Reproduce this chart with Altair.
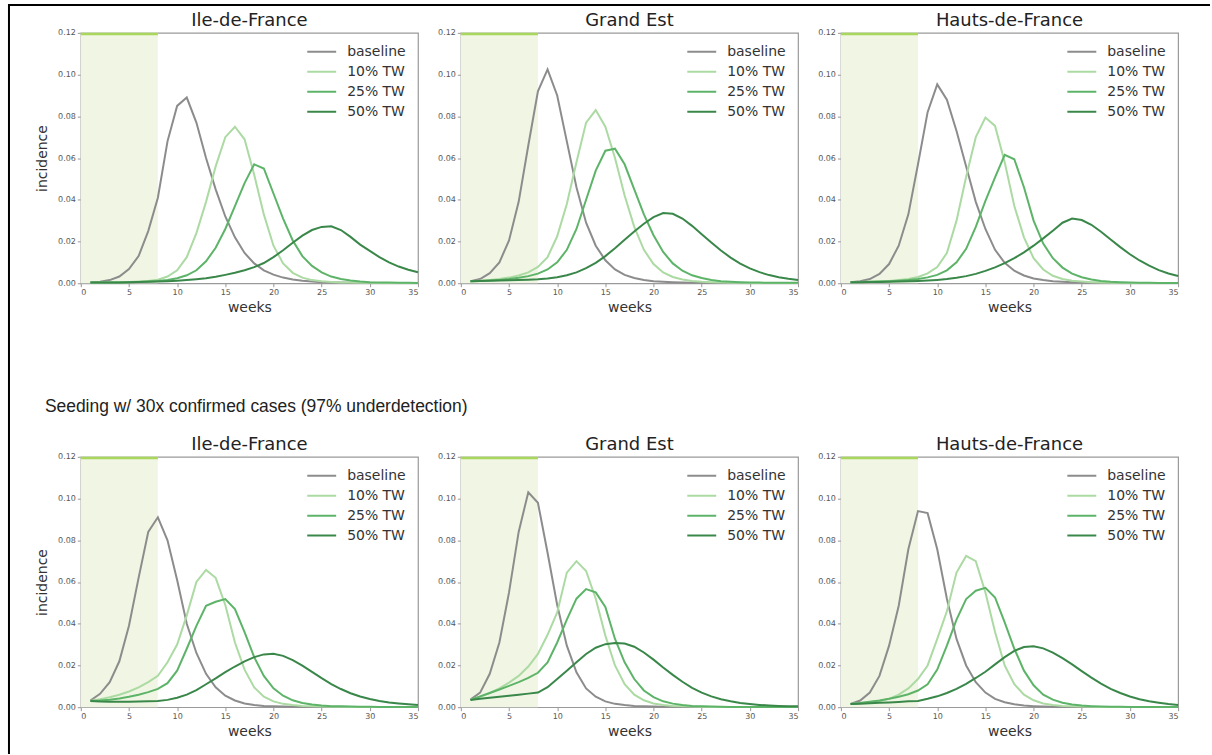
import altair as alt
import pandas as pd

WEEKS = list(range(1, 36))
SCENARIOS = ["baseline", "10% TW", "25% TW", "50% TW"]
COLORS = ["#8c8c8c", "#acdaa3", "#5db468", "#3a874a"]
REGIONS = ["Ile-de-France", "Grand Est", "Hauts-de-France"]
LOCKDOWN = [0, 8]
SUBTITLE = "Seeding w/ 30x confirmed cases (97% underdetection)"
X_TICKS = [0, 5, 10, 15, 20, 25, 30, 35]
Y_TICKS = [0.0, 0.02, 0.04, 0.06, 0.08, 0.10, 0.12]

# ---------- top row ----------
idf_top_base = [0.0003, 0.0007, 0.0015, 0.0032, 0.0068, 0.013, 0.025, 0.041, 0.068, 0.085, 0.089, 0.077, 0.060, 0.045, 0.032, 0.022, 0.0145, 0.0095, 0.0062, 0.0041, 0.0027, 0.0018, 0.0012, 0.0008, 0.0005, 0.0004, 0.0003, 0.0002, 0.0002, 0.0001, 0.0001, 0.0001, 0.0001, 0.0001, 0.0001]
idf_top_10 = [0.0003, 0.0003, 0.0004, 0.0005, 0.0006, 0.0008, 0.0011, 0.0017, 0.0032, 0.0062, 0.0125, 0.024, 0.039, 0.056, 0.070, 0.075, 0.069, 0.052, 0.033, 0.018, 0.0095, 0.005, 0.0027, 0.0015, 0.0009, 0.0006, 0.0004, 0.0003, 0.0002, 0.0002, 0.0001, 0.0001, 0.0001, 0.0001, 0.0001]
idf_top_25 = [0.0003, 0.0003, 0.0004, 0.0004, 0.0005, 0.0006, 0.0008, 0.0011, 0.0016, 0.0024, 0.0038, 0.0062, 0.0105, 0.017, 0.026, 0.037, 0.048, 0.057, 0.055, 0.043, 0.031, 0.0205, 0.013, 0.0083, 0.0052, 0.0032, 0.002, 0.0013, 0.0008, 0.0005, 0.0004, 0.0003, 0.0002, 0.0002, 0.0001]
idf_top_50 = [0.0003, 0.0003, 0.0004, 0.0004, 0.0005, 0.0006, 0.0007, 0.0008, 0.001, 0.0012, 0.0015, 0.0019, 0.0024, 0.0031, 0.004, 0.005, 0.0062, 0.0077, 0.0097, 0.0125, 0.0158, 0.0194, 0.0228, 0.0255, 0.027, 0.0273, 0.0255, 0.0222, 0.0185, 0.0155, 0.0125, 0.0100, 0.0080, 0.0065, 0.0053]

ge_top_base = [0.0010, 0.0020, 0.0048, 0.010, 0.0205, 0.039, 0.066, 0.092, 0.1025, 0.090, 0.068, 0.046, 0.029, 0.018, 0.011, 0.0066, 0.004, 0.0025, 0.0016, 0.001, 0.0007, 0.0005, 0.0003, 0.0002, 0.0002, 0.0001, 0.0001, 0.0001, 0.0001, 0.0001, 0.0001, 0.0001, 0.0001, 0.0001, 0.0001]
ge_top_10 = [0.0010, 0.0012, 0.0015, 0.002, 0.0027, 0.0037, 0.0052, 0.0078, 0.0125, 0.0225, 0.038, 0.058, 0.077, 0.083, 0.075, 0.060, 0.042, 0.027, 0.016, 0.0092, 0.0052, 0.003, 0.0018, 0.0011, 0.0007, 0.0005, 0.0003, 0.0002, 0.0002, 0.0001, 0.0001, 0.0001, 0.0001, 0.0001, 0.0001]
ge_top_25 = [0.0010, 0.0011, 0.0013, 0.0016, 0.0020, 0.0026, 0.0034, 0.0046, 0.0066, 0.0100, 0.0160, 0.026, 0.040, 0.054, 0.0635, 0.0645, 0.057, 0.045, 0.033, 0.023, 0.015, 0.0095, 0.006, 0.0038, 0.0025, 0.0016, 0.001, 0.0007, 0.0005, 0.0004, 0.0003, 0.0002, 0.0002, 0.0002, 0.0002]
ge_top_50 = [0.0010, 0.0011, 0.0012, 0.0013, 0.0014, 0.0015, 0.0017, 0.0019, 0.0023, 0.0029, 0.0038, 0.0052, 0.0072, 0.0098, 0.0130, 0.0168, 0.0208, 0.0248, 0.0285, 0.0317, 0.0336, 0.0333, 0.0310, 0.0275, 0.0235, 0.0195, 0.0157, 0.0123, 0.0094, 0.0071, 0.0053, 0.0039, 0.0029, 0.0021, 0.0015]

hdf_top_base = [0.0005, 0.001, 0.002, 0.0045, 0.0092, 0.018, 0.033, 0.057, 0.082, 0.0953, 0.088, 0.073, 0.056, 0.039, 0.026, 0.016, 0.0098, 0.006, 0.0037, 0.0023, 0.0015, 0.001, 0.0007, 0.0005, 0.0003, 0.0002, 0.0002, 0.0001, 0.0001, 0.0001, 0.0001, 0.0001, 0.0001, 0.0001, 0.0001]
hdf_top_10 = [0.0005, 0.0006, 0.0007, 0.0009, 0.0011, 0.0015, 0.002, 0.003, 0.0047, 0.0078, 0.0145, 0.030, 0.051, 0.070, 0.0794, 0.0754, 0.058, 0.037, 0.022, 0.012, 0.0066, 0.0036, 0.002, 0.0012, 0.0008, 0.0005, 0.0003, 0.0002, 0.0002, 0.0001, 0.0001, 0.0001, 0.0001, 0.0001, 0.0001]
hdf_top_25 = [0.0005, 0.0006, 0.0007, 0.0008, 0.001, 0.0012, 0.0015, 0.002, 0.0028, 0.004, 0.0062, 0.010, 0.0165, 0.027, 0.0395, 0.0507, 0.0615, 0.0594, 0.046, 0.030, 0.019, 0.012, 0.0075, 0.0046, 0.0029, 0.0018, 0.0011, 0.0007, 0.0005, 0.0003, 0.0002, 0.0002, 0.0001, 0.0001, 0.0001]
hdf_top_50 = [0.0005, 0.0005, 0.0006, 0.0006, 0.0007, 0.0008, 0.0009, 0.0011, 0.0013, 0.0016, 0.002, 0.0026, 0.0034, 0.0045, 0.0059, 0.0076, 0.0096, 0.012, 0.0148, 0.0180, 0.0215, 0.0252, 0.0290, 0.0310, 0.0303, 0.0280, 0.0247, 0.0210, 0.0173, 0.0139, 0.0109, 0.0084, 0.0063, 0.0047, 0.0035]

# ---------- bottom row (30x seeding) ----------
idf_bot_base = [0.0032, 0.0064, 0.012, 0.022, 0.039, 0.062, 0.084, 0.091, 0.080, 0.061, 0.040, 0.026, 0.016, 0.0095, 0.0055, 0.0032, 0.0018, 0.001, 0.0006, 0.0004, 0.0003, 0.0002, 0.0001, 0.0001, 0.0001, 0.0001, 0.0001, 0.0001, 0.0001, 0.0001, 0.0001, 0.0001, 0.0001, 0.0001, 0.0001]
idf_bot_10 = [0.003, 0.0038, 0.0048, 0.006, 0.0075, 0.0095, 0.012, 0.015, 0.0215, 0.0300, 0.044, 0.060, 0.0658, 0.062, 0.049, 0.031, 0.018, 0.0095, 0.005, 0.0028, 0.0016, 0.001, 0.0006, 0.0004, 0.0003, 0.0002, 0.0002, 0.0001, 0.0001, 0.0001, 0.0001, 0.0001, 0.0001, 0.0001, 0.0001]
idf_bot_25 = [0.003, 0.0032, 0.0036, 0.0042, 0.005, 0.006, 0.0072, 0.0088, 0.0115, 0.0175, 0.028, 0.039, 0.0486, 0.0505, 0.0518, 0.047, 0.036, 0.024, 0.015, 0.009, 0.0055, 0.0033, 0.002, 0.0013, 0.0008, 0.0005, 0.0004, 0.0003, 0.0002, 0.0002, 0.0001, 0.0001, 0.0001, 0.0001, 0.0001]
idf_bot_50 = [0.003, 0.0027, 0.0026, 0.0026, 0.0026, 0.0027, 0.0028, 0.003, 0.0035, 0.0045, 0.006, 0.0082, 0.011, 0.0138, 0.0168, 0.0195, 0.022, 0.024, 0.0253, 0.0256, 0.0246, 0.0226, 0.0199, 0.0169, 0.0139, 0.0111, 0.0087, 0.0067, 0.0051, 0.0039, 0.003, 0.0023, 0.0018, 0.0014, 0.0011]

ge_bot_base = [0.0037, 0.007, 0.016, 0.031, 0.055, 0.084, 0.103, 0.098, 0.074, 0.049, 0.0295, 0.0167, 0.009, 0.005, 0.0028, 0.0016, 0.001, 0.0006, 0.0004, 0.0003, 0.0002, 0.0002, 0.0001, 0.0001, 0.0001, 0.0001, 0.0001, 0.0001, 0.0001, 0.0001, 0.0001, 0.0001, 0.0001, 0.0001, 0.0001]
ge_bot_10 = [0.0035, 0.005, 0.0068, 0.009, 0.0118, 0.015, 0.0195, 0.0255, 0.0347, 0.0454, 0.0645, 0.070, 0.0653, 0.052, 0.0343, 0.020, 0.011, 0.006, 0.0033, 0.0018, 0.001, 0.0006, 0.0004, 0.0003, 0.0002, 0.0001, 0.0001, 0.0001, 0.0001, 0.0001, 0.0001, 0.0001, 0.0001, 0.0001, 0.0001]
ge_bot_25 = [0.0035, 0.0052, 0.0068, 0.0085, 0.0102, 0.012, 0.014, 0.0165, 0.0215, 0.031, 0.042, 0.052, 0.0566, 0.055, 0.048, 0.0327, 0.0215, 0.0135, 0.008, 0.0048, 0.0028, 0.0017, 0.001, 0.0006, 0.0004, 0.0003, 0.0002, 0.0001, 0.0001, 0.0001, 0.0001, 0.0001, 0.0001, 0.0001, 0.0001]
ge_bot_50 = [0.0035, 0.004, 0.0045, 0.005, 0.0055, 0.006, 0.0065, 0.007, 0.0096, 0.0135, 0.0175, 0.0215, 0.0255, 0.0285, 0.0302, 0.0308, 0.0305, 0.029, 0.0262, 0.0228, 0.019, 0.0155, 0.0122, 0.0093, 0.007, 0.0052, 0.0038, 0.0028, 0.002, 0.0015, 0.0011, 0.0008, 0.0006, 0.0005, 0.0004]

hdf_bot_base = [0.0016, 0.0032, 0.007, 0.015, 0.0295, 0.0486, 0.0757, 0.094, 0.093, 0.0757, 0.052, 0.0327, 0.020, 0.012, 0.007, 0.004, 0.0024, 0.0014, 0.0008, 0.0005, 0.0003, 0.0002, 0.0001, 0.0001, 0.0001, 0.0001, 0.0001, 0.0001, 0.0001, 0.0001, 0.0001, 0.0001, 0.0001, 0.0001, 0.0001]
hdf_bot_10 = [0.0015, 0.002, 0.0025, 0.003, 0.004, 0.006, 0.009, 0.0135, 0.020, 0.0327, 0.046, 0.0645, 0.0725, 0.070, 0.055, 0.036, 0.020, 0.011, 0.006, 0.0033, 0.0018, 0.001, 0.0006, 0.0004, 0.0003, 0.0002, 0.0001, 0.0001, 0.0001, 0.0001, 0.0001, 0.0001, 0.0001, 0.0001, 0.0001]
hdf_bot_25 = [0.0015, 0.002, 0.0026, 0.0032, 0.004, 0.005, 0.0062, 0.008, 0.011, 0.018, 0.0295, 0.042, 0.0518, 0.0558, 0.0572, 0.0526, 0.0406, 0.028, 0.0175, 0.0105, 0.006, 0.0036, 0.0021, 0.0013, 0.0008, 0.0005, 0.0003, 0.0002, 0.0002, 0.0001, 0.0001, 0.0001, 0.0001, 0.0001, 0.0001]
hdf_bot_50 = [0.0015, 0.0017, 0.0019, 0.0021, 0.0023, 0.0025, 0.0028, 0.003, 0.004, 0.0052, 0.0068, 0.0088, 0.0112, 0.014, 0.017, 0.0205, 0.024, 0.027, 0.0288, 0.0292, 0.0282, 0.0262, 0.0235, 0.0205, 0.0173, 0.0142, 0.0113, 0.0088, 0.0068, 0.0051, 0.0038, 0.0028, 0.0021, 0.0015, 0.0011]

TOP = [
    [idf_top_base, idf_top_10, idf_top_25, idf_top_50],
    [ge_top_base, ge_top_10, ge_top_25, ge_top_50],
    [hdf_top_base, hdf_top_10, hdf_top_25, hdf_top_50],
]
BOTTOM = [
    [idf_bot_base, idf_bot_10, idf_bot_25, idf_bot_50],
    [ge_bot_base, ge_bot_10, ge_bot_25, ge_bot_50],
    [hdf_bot_base, hdf_bot_10, hdf_bot_25, hdf_bot_50],
]

W, H = 338, 251
FONT = "DejaVu Sans"

x_scale = alt.Scale(domain=[0, 35], nice=False, zero=False)
y_scale = alt.Scale(domain=[0, 0.12], nice=False)


def panel(region, series, left, subtitle=False, frame=False):
    rows = []
    for name, vals in zip(SCENARIOS, series):
        for w, v in zip(WEEKS, vals):
            rows.append({"week": w, "incidence": v, "scenario": name, "order": SCENARIOS.index(name)})
    df = pd.DataFrame(rows)

    x_axis = alt.Axis(values=X_TICKS, title="weeks", grid=False, domain=False,
                      labelFontSize=8, labelColor="#555", labelFont=FONT,
                      tickColor="#999", tickSize=3.5, labelPadding=2,
                      titleFont=FONT, titleFontSize=14, titleFontWeight="normal",
                      titleColor="#333", titlePadding=4)
    y_axis = alt.Axis(values=Y_TICKS, format=".2f", title="incidence" if left else None,
                      grid=False, domain=False, labelFontSize=8, labelColor="#555",
                      labelFont=FONT, tickColor="#999", tickSize=3.5, labelPadding=2,
                      titleFont=FONT, titleFontSize=14, titleFontWeight="normal",
                      titleColor="#333", titlePadding=8)

    shade_df = pd.DataFrame({"start": [LOCKDOWN[0]], "end": [LOCKDOWN[1]]})
    shade = alt.Chart(shade_df).mark_rect(color="#f0f6e3").encode(
        x=alt.X("start:Q", scale=x_scale, axis=x_axis),
        x2="end:Q",
        y=alt.datum(0.0, scale=y_scale, axis=y_axis),
        y2=alt.datum(0.12),
    )
    bar = alt.Chart(shade_df).mark_rect(color="#a9d65c").encode(
        x=alt.X("start:Q", scale=x_scale),
        x2="end:Q",
        y=alt.datum(0.1188, scale=y_scale),
        y2=alt.datum(0.12),
    )
    lines = alt.Chart(df).mark_line(strokeWidth=2).encode(
        x=alt.X("week:Q", scale=x_scale),
        y=alt.Y("incidence:Q", scale=y_scale),
        color=alt.Color("scenario:N", scale=alt.Scale(domain=SCENARIOS, range=COLORS),
                        legend=alt.Legend(title=None, orient="none", legendX=226, legendY=12,
                                          symbolType="stroke", symbolSize=841,
                                          symbolStrokeWidth=2, clipHeight=14, rowPadding=6,
                                          labelFontSize=14, labelFont=FONT, labelColor="#333",
                                          labelOffset=10, padding=0)),
        order=alt.Order("order:Q"),
    )
    title = alt.Chart(pd.DataFrame({"t": [region]})).mark_text(
        align="center", baseline="middle", font=FONT, fontSize=18, color="#222"
    ).encode(text="t:N", x=alt.value(W / 2), y=alt.value(-12))
    layers = [shade, bar, lines, title]
    if subtitle:
        sub = alt.Chart(pd.DataFrame({"t": [SUBTITLE]})).mark_text(
            align="left", baseline="middle", font="Liberation Sans", fontSize=17.5, color="#222"
        ).encode(text="t:N", x=alt.value(-36), y=alt.value(-50))
        layers.append(sub)
    if frame:
        fdf = pd.DataFrame({"k": [1]})
        top = alt.Chart(fdf).mark_rule(color="black", strokeWidth=2).encode(
            x=alt.value(-72), x2=alt.value(1132), y=alt.value(-28))
        leftr = alt.Chart(fdf).mark_rule(color="black", strokeWidth=2).encode(
            x=alt.value(-72), y=alt.value(-29), y2=alt.value(723))
        layers += [top, leftr]
    return alt.layer(*layers).properties(width=W, height=H)


top_row = alt.hconcat(
    *[panel(REGIONS[i], TOP[i], i == 0, frame=(i == 0)) for i in range(3)],
    spacing=43, bounds="flush",
).resolve_legend(color="independent")
bottom_row = alt.hconcat(
    *[panel(REGIONS[i], BOTTOM[i], i == 0, subtitle=(i == 0)) for i in range(3)],
    spacing=43, bounds="flush",
).resolve_legend(color="independent")

chart = alt.vconcat(top_row, bottom_row, spacing=425, bounds="flush").resolve_legend(
    color="independent"
).properties(
    padding={"left": 7, "top": 1, "right": 0, "bottom": 0},
    background="white",
).configure_view(stroke="#9a9a9a", strokeWidth=1.2)

chart.save("out.html", embed_options={"renderer": "svg", "actions": False})
